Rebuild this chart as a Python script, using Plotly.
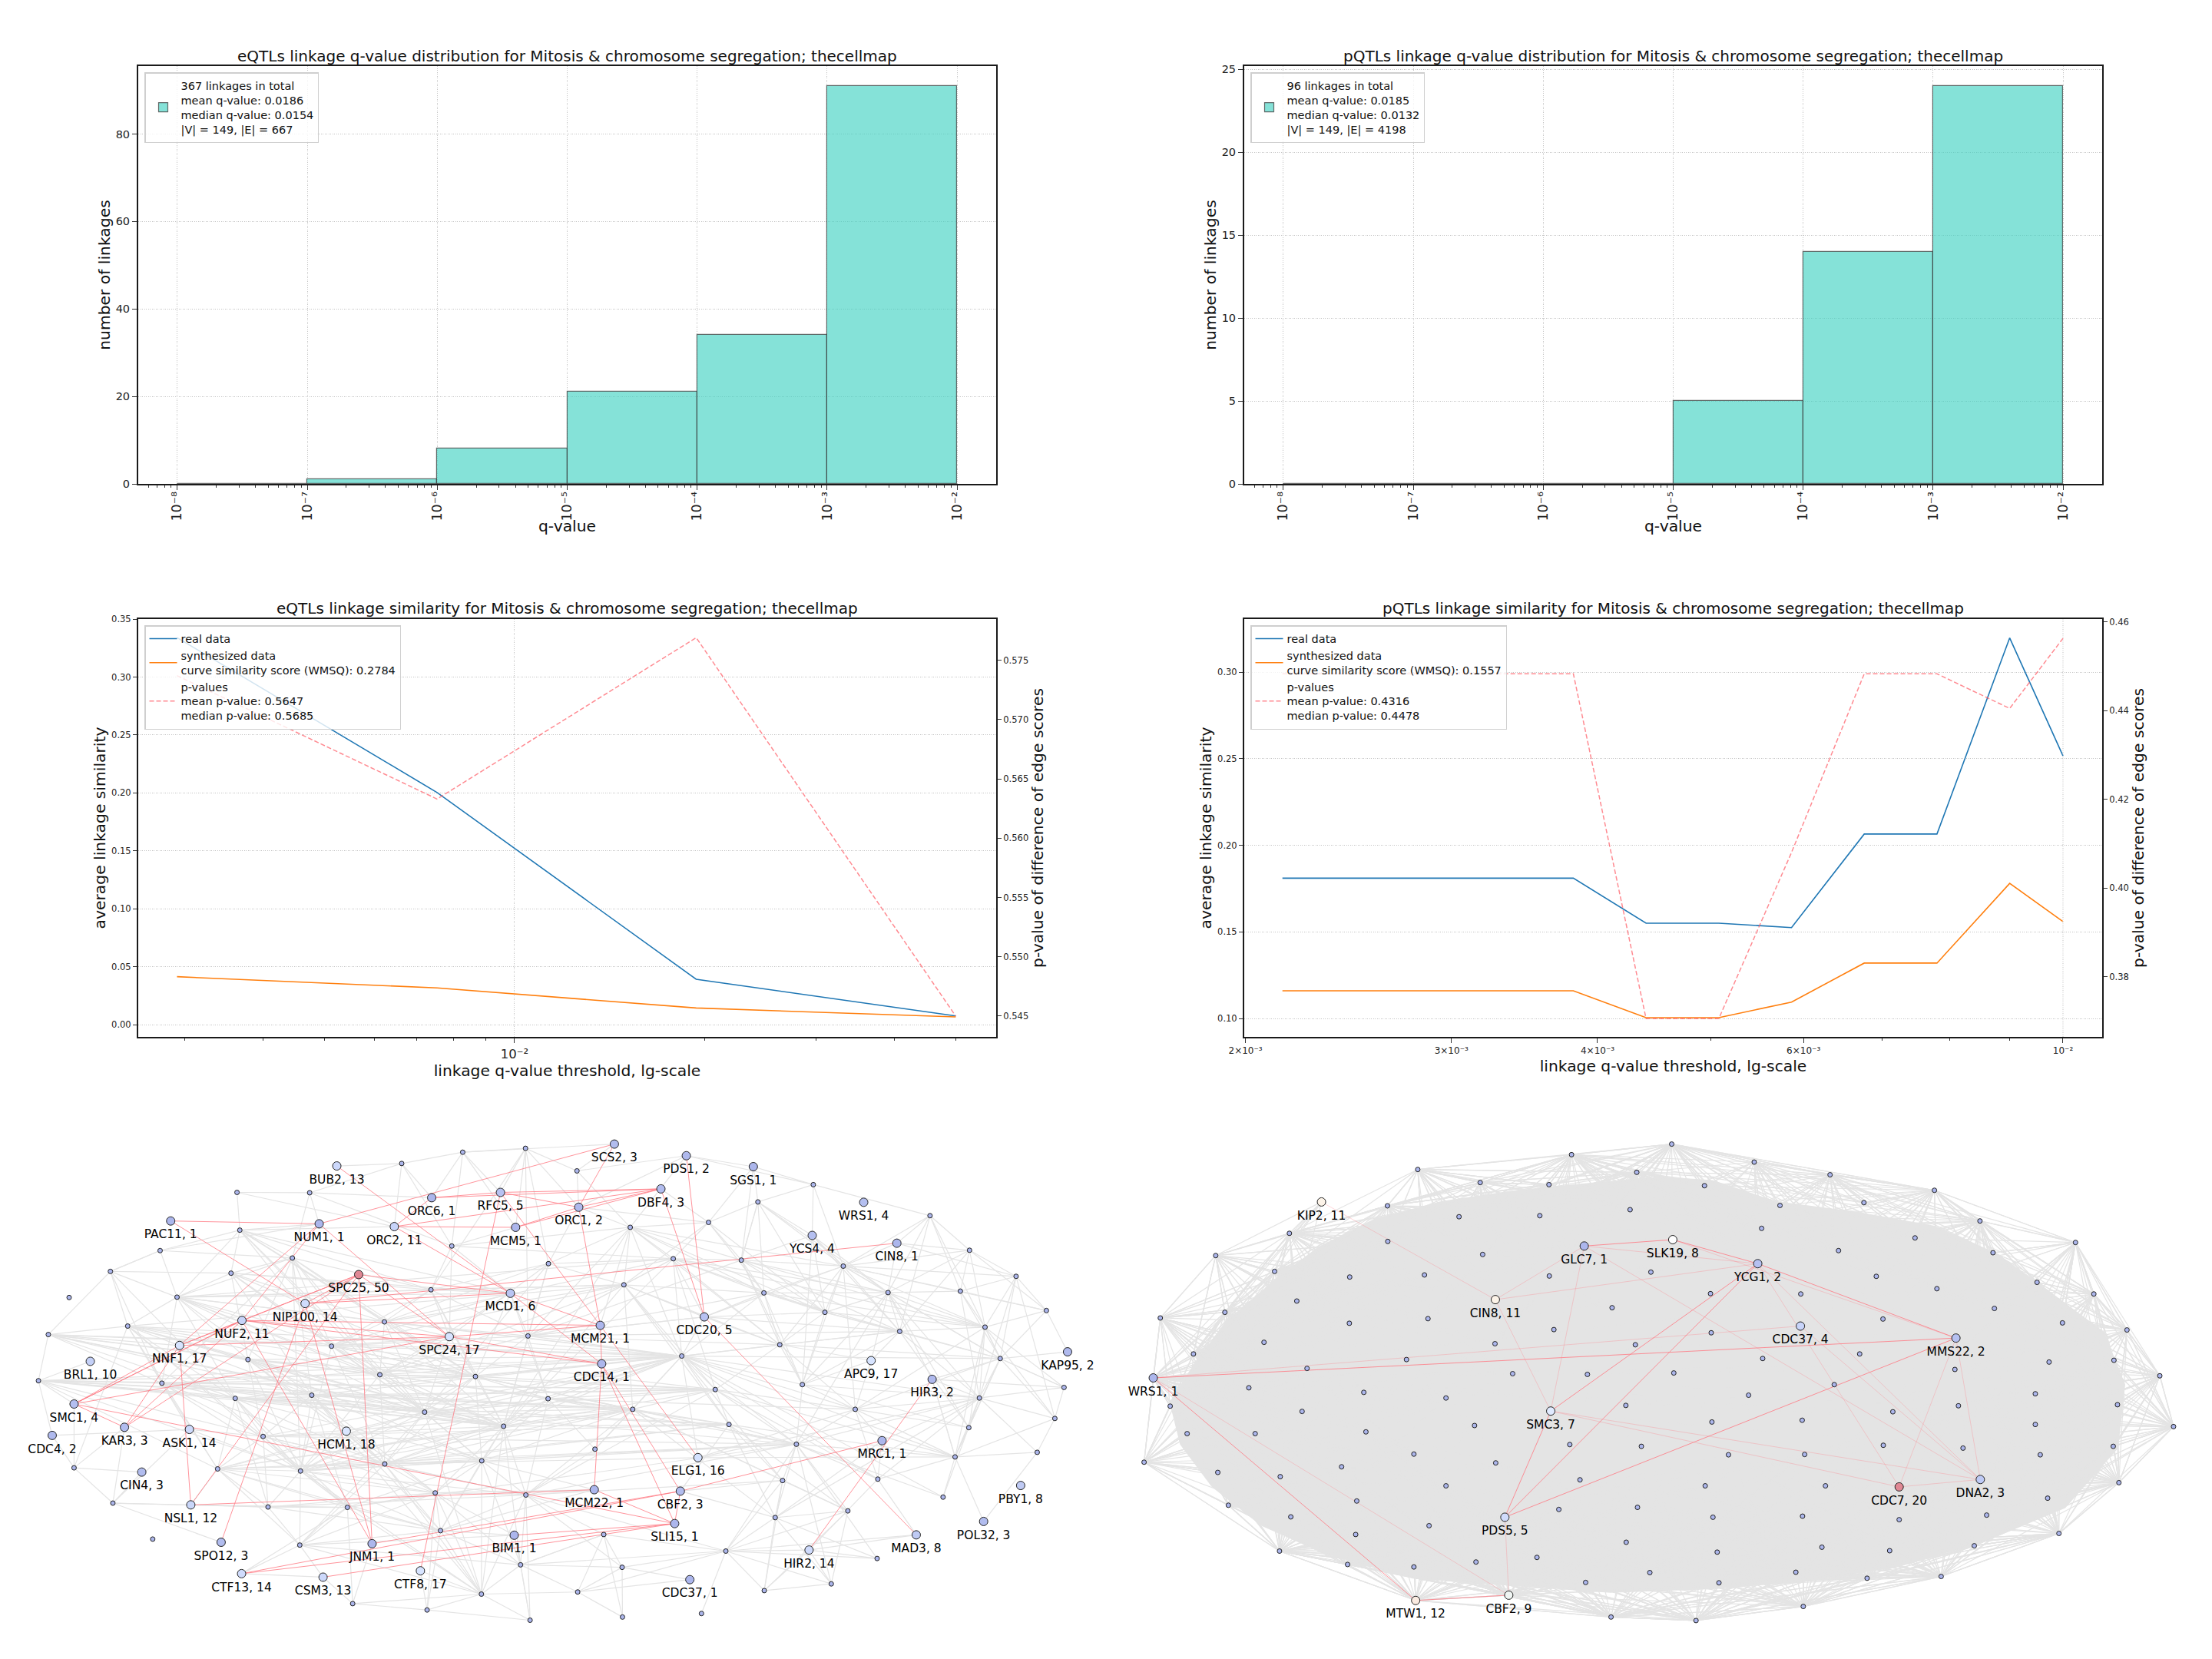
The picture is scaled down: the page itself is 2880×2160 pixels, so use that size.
import plotly.graph_objects as go

# ---------- histogram data ----------
BIN_EXPONENTS = [-8, -7, -6, -5, -4, -3, -2]
EQTL_COUNTS = [0, 1, 8, 21, 34, 91]
PQTL_COUNTS = [0, 0, 0, 5, 14, 24]
EQTL_HIST_NAME = "367 linkages in total<br>mean q-value: 0.0186<br>median q-value: 0.0154<br>|V| = 149, |E| = 667"
PQTL_HIST_NAME = "96 linkages in total<br>mean q-value: 0.0185<br>median q-value: 0.0132<br>|V| = 149, |E| = 4198"

# ---------- similarity curves ----------
EQ_THRESHOLD = [0.00292, 0.00754, 0.0194, 0.05]
EQ_REAL = [0.334, 0.2004, 0.0393, 0.0077]
EQ_SYNTH = [0.0415, 0.0318, 0.0145, 0.0068]
EQ_PVAL = [0.5737, 0.5633, 0.5769, 0.545]
PQ_THRESHOLD = [0.002151, 0.002482, 0.002864, 0.003305, 0.003814, 0.004401, 0.005078, 0.00586, 0.006762, 0.007803, 0.009004, 0.01]
PQ_REAL = [0.181, 0.181, 0.181, 0.181, 0.181, 0.155, 0.155, 0.1525, 0.2065, 0.2065, 0.3197, 0.2516]
PQ_SYNTH = [0.116, 0.116, 0.116, 0.116, 0.116, 0.1005, 0.1005, 0.1095, 0.132, 0.132, 0.178, 0.156]
PQ_PVAL = [0.4483, 0.4483, 0.4483, 0.4483, 0.4483, 0.3705, 0.3705, 0.408, 0.4483, 0.4483, 0.4405, 0.4563]

# ---------- eQTL network: layout (left half, right half) ----------
EQ_GENES = ["BUB2","ORC6","RFC5","NUM1","PAC11","ORC2","MCM5","SPC25","NIP100","MCD1","NUF2","NNF1","SPC24","BRL1","SMC1","KAR3","ASK1","CDC4","HCM1","CIN4","NSL1","SPO12","JNM1","BIM1","CTF13","CSM3","CTF8",
            "SCS2","PDS1","SGS1","DBF4","ORC1","WRS1","YCS4","CIN8","CDC20","MCM21","CDC14","APC9","KAP95","HIR3","MRC1","ELG1","MCM22","CBF2","SLI15","PBY1","POL32","MAD3","HIR2","CDC37"]
EQ_DEGREE = [13,1,5,1,1,11,1,50,14,6,11,17,17,10,4,3,14,2,18,3,12,3,1,1,14,13,17,
             3,2,1,3,2,4,4,1,5,1,1,17,2,2,1,16,1,3,1,8,3,8,14,1]
EQ_GENE_POS = [(955,170),(1224,260),(1419,245),(905,334),(484,326),(1118,342),(1462,344),(1017,478),(865,560),(1447,531),(686,608),(509,679),(1274,654),(256,724),(210,845),(353,911),(537,917),(148,934),(982,922),(402,1038),(541,1131),(627,1237),(1055,1241),(1458,1217),(685,1326),(916,1336),(1192,1318),
               (1742,108),(1946,141),(2136,172),(1874,235),(1641,287),(2449,273),(2303,367),(2543,389),(1997,598),(1702,622),(1706,731),(2470,722),(3027,697),(2643,775),(2501,949),(1979,997),(1685,1088),(1929,1092),(1913,1184),(2894,1076),(2789,1178),(2598,1216),(2294,1259),(1956,1343)]
EQ_SMALL_A = [(1139,163),(1312,131),(1490,120),(672,245),(878,246),(680,352),(454,410),(829,431),(1281,397),(1555,447),(313,469),(655,474),(1222,521),(196,543),(502,542),(362,624),(137,648),(1090,612),(1497,652),(940,681),(703,719),(109,779),(459,786),(1077,762),(1348,767),(667,829),(884,820),(1554,830),(1204,868),(1428,908),(746,937),(1366,1006),(1091,1015),(617,1029),(852,1035),(210,1026),(320,1126),(760,1137),(985,1138),(1234,1097),(1491,1103),(433,1228),(850,1245),(1249,1204),(1476,1301),(1365,1384),(1211,1429),(1000,1411),(1503,1458)]
EQ_SMALL_B = [(68,184),(738,223),(581,272),(441,330),(219,344),(1069,311),(341,433),(534,437),(823,454),(1181,409),(201,507),(598,530),(950,529),(1155,525),(1313,483),(771,585),(1399,580),(983,639),(1225,627),(643,677),(365,709),(1268,716),(460,804),(707,790),(1449,798),(1209,828),(226,860),(857,860),(499,903),(1179,912),(1423,886),(119,973),(690,959),(1140,995),(1373,982),(651,1062),(921,1058),(1106,1109),(630,1167),(836,1148),(144,1215),(490,1262),(919,1283),(196,1308),(70,1378),(599,1374),(789,1355),(197,1449),(421,1439)]
# estimated by eye: the picture shows 667 overlapping edges that cannot all be told apart
EQ_GRAY = """a0: a1 a4 ORC6 BUB2 ORC2 a8
a1: RFC5 ORC6 a8 a2 SCS2 MCM5
a2: RFC5 a9 a18 ORC1 a12 MCM5
a3: a4 a5 ORC2
a4: ORC6 a7 NUM1 a8
a5: NUM1 ORC2 a6 a7 a11 a17 a19 a23 a24 a28 MCD1 a14 a12
a6: NUM1 a10 a14 a7
a7: a11 a19 a20 a23 a26 a28 a17 a12 a24 a34 a14 a22
a8: a12 MCD1 SPC24 MCM5 b4 b6
a9: a12 a18 b10 b6 SPC24 a28 b4 ORC1
a10: a11 a14 a15 a6 a22 a25 a16
a11: a12 a17 a19 a20 a23 a26 MCD1 a14 a24 a28
a14: a15 a17 a19 a23 a26 a28 a24 a29 a20 a25 a22 MCD1 a12 b20 b10 b6
a15: a16 a20 a22 a25 a26 a30 a23 a28 a33 a34 a29 a19 a35 a24 b20 b10
a16: a21 a22 a20 a25 a23 a26 NNF1 a19 a28 a29 b20
a21: a22 a25 a26 a30 a33 a28 SMC1 a23 a29 CDC4 a34 BRL1 b22 b26 b20
a22: a25 a30 a34 a32 a28 a24 a26 a29 a33 b20 b22 b26
a20: a24 a28 a32 a31 a34 a26 a30 a23 a29 b20 a39
a25: a30 a33 a34 a32 a28 a38 a37 a31 a29 b20 b26 b28 b22
a26: a34 a32 a38 a28 a31 a29 a39 a43 a30 b20 b22 b26
a30: a33 a34 a37 a32 a38 a39 a40 a29 b20 b26 b28 b32
a33: a37 a34 a38 a39 a42 a43 a28 a29 a31 a32 b20 b26 b32
a34: a37 a38 a42 a39 a43 a32 a28 a29 a31 a19 a23 a24 a40 b20 b26 b32 b28
a35: CDC4 KAR3 a36 CIN4 SMC1
a36: a37 CIN4 NSL1 KAR3 ASK1 SPO12
a37: a38 a39 a42 a43 a40
a38: a39 a42 a43 a45 a47 b26 b32
a42: a43 a45 a44 CSM3 a39 a32 a28
a45: a43 a39 a44 a46 a47 a32 a31 a29 a40 CTF8 a28 a34 a48 a26 b44
a46: a43 a39 CTF8 a47 a48
a47: JNM1 CSM3
a48: a44 a40
a39: a40 a43 a44 a31 a29
a43: a40 a44 a31 a29 a32
a29: a17 a18 a19 a23 a24 a27 a28 a31 a32 a40 a44 a12 a9 b4 b6 b10 b20 b22 b26 b28
a31: a32 a40 a24 a28 a44 a27
a32: a39 a40 a28 a24 a19 b20 b26 b32 b28
a17: a23 a19 a12 a18 a24 a28 b20 b6 b10 a9
a19: a23 a28 a24 a18 b20 b10 a12 b26 b22 b32
a23: a24 a28 a32 a31 b20 a27 b10 a18 b26 b22
a24: a27 b20 a18 a28 b26 b22
a28: a27 b20 b26 b32 b22 b28
a12: a18 MCD1 a24 b10
a18: a27 b20 b10 b6 b11 b7 b19 b17 CDC20
a27: b26 b20 b31 b22 b28 a40 b32 b27
a40: b31 b26 b35 b40 b41 b43 a44 b22 b32
a44: b40 b43 b44 b41 a48
b0: ORC1 PDS1 a2 SCS2 b4
b1: b2 SGS1 PDS1 YCS4 b8 b5
b2: SGS1 b3 YCS4 b8 b11 b12 b7 b15
b3: ORC1 b4 b6 b7 b11 DBF4 b10 b15
b4: ORC1 b6 b7 b10 b11 b15 b8 MCM21 a18 b20 b19
b5: b8 b9 b13 b17 b12 b21 CIN8
b6: b7 b10 b20 b11 b19 b12 b15 b22 b18
b7: b8 b11 b19 b15 YCS4 b12 b17 b18 b23 b2
b8: b9 b11 b12 b13 b14 b15 b17 b19 b16 b18 b21 b23 b27
b9: b13 b14 b17 b16 b18 b12
b10: b11 b19 b20 CDC20 b22 b26 b28
b11: b12 b15 b17 b19 b20 b23 b18
b12: b13 b15 b17 b18 b21 b25 b23 b29 b32
b13: b14 b16 b18 b25 b21
b14: b18 b16 b21 b25 b30
b15: b17 b23 b18 b19 b21
b16: b18 b21 KAP95
b17: b18 b19 b20 b21 b25 b29 b23
b18: b21 b25 b29 b30 b24 b27 b33
b19: b20 b23 b27 b21 b22
b20: b22 b23 b26 b27 b28 b32 b21 b35 b31 b33 b37 b36 b25
b21: b25 b29 b27 b33 KAP95 b24 b30
b22: b27 b28 b32 b33 b36 b26
b23: b27 b32 b29 b25
b24: b25 b30 b21
b25: b27 b29 b33 b32 b34 b30 b36 b37 b38
b26: b28 b31 b32 b35 b38 b39
b27: b32 b33 b36 b29
b28: b32 b35 b39 b38
b29: b33
b30: b34 b33
b33: b37 POL32 b36 b34 b32 b28 HIR3 b21
b32: b35 b38 b39 b46 b41 b42 b36 b37
b34: POL32
b35: b38 b39 b41 b45
b38: b39 b41 b45 b46 b42
b39: b45 b46 b41
b40: b41 b43 b44 b47 a44
b41: b43 b45 b46 b48 b42 b44
b43: b44 b47 CDC37
b45: b46
b44: b47 CDC37
SPC24: a24 a23 a28 a19 a17 a12 b20
MCD1: a24 a18 a27 a19 a23
CDC20: a18 b6 b10 b15 b11 b19 b20 b8 b17
ELG1: b20 b27 b33 b25 a32
HCM1: a34 a32 a28 a26
NSL1: a37 a33 a38
ASK1: a30 a22 a34 CDC4
CTF13: a42 a38 CSM3
PDS1: SGS1 ORC1 b4
SGS1: b3 b7
CIN8: b14 b9 b8 b12
YCS4: b8 b12 b15 b23 b17
HIR3: b25 b12 b24 b33 b21
HIR2: b41 b42 b46 b45 b36
MRC1: b27 b25 b36 b38
APC9: b17 b19 b23 b27 b12
BIM1: a44 a43 a39 a42
CBF2: b28 b35 b38
MCM22: a40 a43 a39 a31
MAD3: b41 HIR2 b36"""
EQ_RED = """PAC11: NUM1 NIP100
NUM1: SCS2 SPC24 NNF1 NUF2
BUB2: MCD1
ORC6: RFC5 ORC2 DBF4
RFC5: DBF4 ORC1 MCM21 CTF8
ORC2: MCM5 DBF4 MCD1
MCM5: DBF4 ORC1
SPC25: NUF2 NIP100 NNF1 SPC24 JNM1 NSL1 MCD1 KAR3
NIP100: SPO12 JNM1 MCD1 CIN8
NUF2: SPC24 SMC1 NNF1 KAR3 JNM1 MCM21 CDC14
NNF1: SMC1 KAR3 NSL1 SPC24
SMC1: SPC24 KAR3 SLI15 NUF2
MCD1: MCM21 CDC14
SPC24: MCM21 CDC14
NSL1: MCM22
CTF13: CBF2 SLI15
CSM3: SLI15
BIM1: SLI15
MCM22: SLI15 CDC14
ORC1: SCS2 MCM21 DBF4
DBF4: CDC20
PDS1: CDC20
CDC20: MAD3
MCM21: CDC14 ELG1
CDC14: CBF2 SLI15
CBF2: SLI15 MRC1
JNM1: CBF2
HIR3: HIR2"""

# ---------- pQTL network ----------
PQ_GENES = ["KIP2","GLC7","CIN8","WRS1","SMC3","PDS5","MTW1","CBF2","SLK19","YCG1","CDC37","MMS22","DNA2","CDC7"]
PQ_DEGREE = [11,1,11,1,7,5,12,9,8,2,4,2,3,20]
PQ_GENE_POS = [(611,272),(1356,397),(1104,549),(134,771),(1261,865),(1131,1166),(878,1402),(1142,1387),(1607,379),(1848,447),(1969,624),(2410,658),(2479,1059),(2249,1080)]
PQ_SMALL_A = [(884,180),(1061,217),(1256,223),(1320,138),(1505,188),(798,283),(1001,314),(1230,311),(1486,294),(520,361),(799,384),(311,424),(1068,421),(478,469),(691,485),(903,479),(1257,482),(1545,471),(541,553),(1435,572),(337,585),(154,601),(690,616),(913,603),(1270,634),(448,670),(248,703),(1103,674),(1501,677),(852,719),(570,744),(1153,759),(1365,761),(405,799),(731,812),(964,828),(182,851),(556,866),(1474,849),(1045,906),(230,929),(423,929),(737,924),(1315,960),(1518,965),(108,1010),(873,987),(668,1023),(1105,1012),(317,1039),(494,1051),(964,1077),(1344,1060),(347,1132),(711,1120),(524,1165),(1284,1144),(1507,1138),(916,1190),(708,1215),(492,1262),(1475,1237),(685,1300),(873,1307),(1049,1293),(1222,1280),(1542,1323),(1360,1351),(1432,1449)]
PQ_SMALL_B = [(36,108),(270,159),(129,226),(485,195),(343,282),(581,274),(781,239),(291,347),(726,374),(910,326),(509,410),(947,416),(1181,387),(616,483),(788,518),(1072,500),(146,532),(402,533),(1233,533),(951,574),(635,604),(1144,615),(1327,635),(148,643),(569,703),(294,716),(1106,726),(1290,721),(839,747),(42,757),(1420,765),(497,790),(1067,816),(254,820),(849,850),(1300,847),(663,867),(150,896),(406,891),(1459,909),(1067,903),(636,962),(862,970),(1288,965),(197,989),(413,988),(1081,989),(131,1077),(472,1077),(1304,1068),(1102,1112),(153,1166),(407,1163),(681,1173),(929,1160),(1134,1212),(165,1265),(462,1251),(654,1261),(894,1247),(170,1352),(388,1322),(590,1339),(800,1334),(409,1419),(105,1459)]
# 4198 edges merge into a solid mass in the picture: its outline is traced, and only the outer fans are listed
PQ_MASS_X = [250,340,470,600,760,950,1150,1350,1568,1720,1900,2130,2350,2530,2680,2830,2890,2870,2720,2480,2230,1970,1720,1430,1140,870,620,440,300,210,180]
PQ_MASS_Y = [730,610,500,400,320,270,240,220,200,210,270,300,340,420,530,640,790,970,1140,1240,1310,1350,1370,1380,1360,1340,1270,1190,1080,960,840]
PQ_TARGETS = {
 "NW": "a10 a14 a15 a22 a25 a30 a34 a29 a23 a37 KIP2 a33",
 "N": "a12 a16 a23 a24 a27 a31 a35 CIN8 GLC7 a17 a19 b7 a6 a7 a15",
 "NE": "b10 b13 b14 b16 b17 b20 b24 b25 b19 b8 b7 CDC37 YCG1 SLK19",
 "W": "a33 a37 a41 a42 a34 a30 a47 a50 a25 a35 a46 a54",
 "SW": "a42 a47 a50 a54 a55 a59 a51 a46 a58 a48 a39 PDS5",
 "S": "a48 a51 a52 a56 a57 a58 a61 a65 b44 b47 b51 b52 a64 a63 b45 PDS5 CBF2",
 "SE": "b36 b41 b42 b45 b48 b53 b54 b52 b57 b58 DNA2 CDC7 b34",
 "E": "b21 b26 b28 b32 b34 b40 b42 b46 b19 b14 b36 MMS22 DNA2",
 "WN": "a26 a20 a33 a25 a13 a18 a22 a10 a9 a14 a11",
 "TOP": "a5 a0 a1 a2 a3 a4 a6 a7 a8 a10 a12 a15 a16",
 "TR": "b0 b1 b2 b3 b4 b5 b7 a8 a17 b10 b13 b6 b8",
 "RT": "b6 b8 b9 b11 b13 b14 b15 b12 b18 b19 b21",
 "RE": "b18 b21 b22 b26 b27 b30 b32 b35 b39 b40 b43",
 "RB": "b43 b46 b49 b50 b55 b54 b59 b42 b40",
 "BOT": "b55 b59 b63 b58 b62 b57 b64 b61 b60 b56 b65 a68 a67 a66",
 "BL": "a68 a67 a65 a64 CBF2 a63 MTW1 a62 a59 a60 a55",
 "LB": "a60 a55 a53 a50 a49 a41 a40 a45 a36 a37",
 "LT": "a36 a33 a26 a21 a20 a25 a13 a18 WRS1 a37",
}
PQ_GRAY = """a21: W LT WN a45 a11
a11: NW WN a9 a13 a20 a26 a18 a25
a9: NW N WN TOP a5 a13 a14 a10 a15
a5: N TOP WN a0 a10 a14 a15 a6
a0: N TOP a1 a2 a6 a15 a10 a12
a1: N TOP a2 a6 a7 a12 a16 a3
a2: N TOP a3 a6 a7 a12 a16
a3: N NE TOP TR a4 a7 a8 b0
a4: N NE TOP TR a8 a17 a19 b2 b0
b0: NE N TR TOP b2 a8 b1
b1: NE TR b2 b4 b7 b3
b3: NE TR RT b4 b5 b10 b7 b6
b6: NE TR RT b5 b8 b9 b13 b14
b9: NE E TR RT b8 b11 b14 b19 b13
b11: E RT b14 b19 b15 b12
b12: E RT RE b15 b18 b19 b21
b15: E RT RE b18 b19 b21 b26
b18: E RT RE b21 b22 b26 b27
b22: E RE RT b27 b30 b26 b35
b30: E RE RB b27 b35 b43 b49 b32 b26 b39
b39: E RE RB b35 b43 b49 b27 b40
b27: E SE RE
b35: E SE RE RB
b43: E SE RE RB
b49: E SE RB RE b55
b50: E SE RB b55
b55: E SE RB BOT b46 b59
b59: S SE RB BOT b63
b63: S SE BOT RB b58 b54 b53 b62
b62: S SE BOT b64
b64: S SE BOT b61 b60 b65
b65: S SE BOT BL a68
a68: S SW BOT BL a67
a67: S SW BOT BL a66 CBF2
a66: S SE BOT
CBF2: S SW BL MTW1
MTW1: S SW BL LB a62
a63: S SW BL
a62: S SW BL LB a60
a60: S SW W BL LB a53
a53: SW W LB a49
a49: SW W LB LT a45
a45: W LB LT a36 a40 a53
a40: W LB LT
a36: W NW LT LB
a26: W NW LT WN
a20: W NW LT WN
a13: NW N WN TOP
a18: NW N WN
WRS1: W SW NW E LT LB"""
PQ_RED = """WRS1: MTW1 MMS22
MTW1: CBF2
YCG1: SLK19 MMS22 SMC3 PDS5
SMC3: PDS5
PDS5: MMS22
GLC7: SLK19"""
PQ_RED_FAINT = """KIP2: CIN8
CIN8: GLC7 YCG1 SMC3
GLC7: YCG1 SMC3 DNA2
SLK19: MMS22
YCG1: DNA2 CDC7
WRS1: CDC37 CBF2
PDS5: CBF2
SMC3: DNA2 CDC7
MMS22: DNA2 CDC7
DNA2: CDC7 CDC37"""


# ---------- styling ----------
W, H = 2880, 2160
FONT = "DejaVu Sans"
BLUE, ORANGE = "#1f77b4", "#ff7f0e"
PINK = "rgba(255,90,100,0.7)"
TURQ = "rgba(58,208,192,0.62)"
GRID = dict(showgrid=True, gridcolor="#c4c4c4", griddash="1px,1.5px", gridwidth=1)
SPINE = dict(showline=True, linecolor="#1a1a1a", linewidth=2, mirror=True, zeroline=False, ticks="outside", tickcolor="#333", tickwidth=1)


def xdom(a, b):
    return [a / W, b / W]


def ydom(top, bottom):
    return [1 - bottom / H, 1 - top / H]


def coords(gene_pos, small_a, small_b, genes):
    nodes = {g: p for g, p in zip(genes, gene_pos)}
    nodes.update({f"a{i}": p for i, p in enumerate(small_a)})
    nodes.update({f"b{i}": (p[0] + 1568, p[1]) for i, p in enumerate(small_b)})
    return nodes


def segments(text, nodes, groups=None):
    xs, ys = [], []
    for line in text.splitlines():
        head, tail = line.split(":")
        for t in tail.split():
            for tgt in (groups[t].split() if groups and t in groups else [t]):
                xs += [nodes[head][0], nodes[tgt][0], None]
                ys += [nodes[head][1], nodes[tgt][1], None]
    return xs, ys


SUPER = str.maketrans("0123456789", "\u2070\u00b9\u00b2\u00b3\u2074\u2075\u2076\u2077\u2078\u2079")


def sup(n):
    return "10\u207b" + str(n).translate(SUPER)


fig = go.Figure()


def legend_box(x, y):
    return dict(x=x / W, y=1 - y / H, xanchor="left", yanchor="top", bgcolor="rgba(255,255,255,0.8)",
                bordercolor="#cfcfcf", borderwidth=1.5, font=dict(family=FONT, size=14.5, color="#111"),
                itemwidth=36, tracegroupgap=0)


# histograms
mids = [(a + b) / 2 for a, b in zip(BIN_EXPONENTS[:-1], BIN_EXPONENTS[1:])]
for ax, counts, name, leg in (("", EQTL_COUNTS, EQTL_HIST_NAME, "legend"), ("2", PQTL_COUNTS, PQTL_HIST_NAME, "legend2")):
    fig.add_trace(go.Bar(x=mids, y=counts, width=1, name=name, legend=leg, showlegend=True,
                         marker=dict(color=TURQ, line=dict(color="rgba(60,60,60,0.75)", width=1.2)),
                         xaxis="x" + ax, yaxis="y" + ax))

# similarity curves
for xa, ya, ya2, xs, real, syn, pv, wm, mean, med, leg in (
        ("x3", "y3", "y4", EQ_THRESHOLD, EQ_REAL, EQ_SYNTH, EQ_PVAL, "0.2784", "0.5647", "0.5685", "legend3"),
        ("x5", "y5", "y6", PQ_THRESHOLD, PQ_REAL, PQ_SYNTH, PQ_PVAL, "0.1557", "0.4316", "0.4478", "legend4")):
    fig.add_trace(go.Scatter(x=xs, y=real, mode="lines", name="real data", legend=leg,
                             line=dict(color=BLUE, width=1.6), xaxis=xa, yaxis=ya))
    fig.add_trace(go.Scatter(x=xs, y=syn, mode="lines", name=f"synthesized data<br>curve similarity score (WMSQ): {wm}", legend=leg,
                             line=dict(color=ORANGE, width=1.6), xaxis=xa, yaxis=ya))
    fig.add_trace(go.Scatter(x=xs, y=pv, mode="lines", name=f"p-values<br>mean p-value: {mean}<br>median p-value: {med}", legend=leg,
                             line=dict(color=PINK, width=1.5, dash="6px,3px"), xaxis=xa, yaxis=ya2))

# vertical grid line at the labelled 10^-2 tick of the pQTL curve panel
fig.add_trace(go.Scatter(x=[0.01, 0.01], y=[0.0894, 0.3306], mode="lines", showlegend=False, hoverinfo="skip",
                         line=dict(color="#c4c4c4", width=1, dash="1px,1.5px"), xaxis="x5", yaxis="y5"))

# networks
SCALE_LEFT = [[0, "rgb(172,182,236)"], [0.32, "rgb(214,227,255)"], [0.5, "rgb(250,250,255)"], [1, "rgb(224,136,148)"]]
SCALE_RIGHT = [[0, "rgb(172,182,236)"], [0.16, "rgb(200,212,250)"], [0.32, "rgb(225,235,255)"], [0.37, "rgb(255,255,255)"],
               [0.42, "rgb(240,245,243)"], [0.53, "rgb(252,243,232)"], [0.58, "rgb(250,235,225)"], [1, "rgb(224,136,148)"]]
EDGE_GRAY = "#e4e4e4"

fig.add_trace(go.Scatter(x=PQ_MASS_X, y=PQ_MASS_Y, mode="lines", fill="toself", fillcolor=EDGE_GRAY,
                         line=dict(width=0), showlegend=False, hoverinfo="skip", xaxis="x8", yaxis="y8"))

for xa, ya, genes, deg, pos, sa, sb, gray, groups, red, faint, scale, cmax in (
        ("x7", "y7", EQ_GENES, EQ_DEGREE, EQ_GENE_POS, EQ_SMALL_A, EQ_SMALL_B, EQ_GRAY, None, EQ_RED, None, SCALE_LEFT, 50),
        ("x8", "y8", PQ_GENES, PQ_DEGREE, PQ_GENE_POS, PQ_SMALL_A, PQ_SMALL_B, PQ_GRAY, PQ_TARGETS, PQ_RED, PQ_RED_FAINT, SCALE_RIGHT, 20)):
    nodes = coords(pos, sa, sb, genes)
    gx, gy = segments(gray, nodes, groups)
    fig.add_trace(go.Scatter(x=gx, y=gy, mode="lines", line=dict(color=EDGE_GRAY, width=1.2), showlegend=False,
                             hoverinfo="skip", xaxis=xa, yaxis=ya))
    if faint:
        fx, fy = segments(faint, nodes)
        fig.add_trace(go.Scatter(x=fx, y=fy, mode="lines", line=dict(color="rgba(255,120,130,0.3)", width=1),
                                 showlegend=False, hoverinfo="skip", xaxis=xa, yaxis=ya))
    rx, ry = segments(red, nodes)
    fig.add_trace(go.Scatter(x=rx, y=ry, mode="lines", line=dict(color="rgba(255,120,130,0.8)", width=1),
                             showlegend=False, hoverinfo="skip", xaxis=xa, yaxis=ya))
    small = [p[0] for p in sa] + [p[0] + 1568 for p in sb], [p[1] for p in sa] + [p[1] for p in sb]
    fig.add_trace(go.Scatter(x=small[0], y=small[1], mode="markers", showlegend=False, hoverinfo="skip",
                             marker=dict(size=6, color="rgb(172,182,236)", line=dict(color="#222", width=1)),
                             xaxis=xa, yaxis=ya))
    fig.add_trace(go.Scatter(x=[p[0] for p in pos], y=[p[1] for p in pos], mode="markers", showlegend=False,
                             marker=dict(size=11, color=deg, colorscale=scale, cmin=1, cmax=cmax, line=dict(color="#222", width=1)),
                             xaxis=xa, yaxis=ya))
    # the labels sit a little further from the node than the node's own radius: a clear, larger marker sets the gap
    fig.add_trace(go.Scatter(x=[p[0] for p in pos], y=[p[1] for p in pos], mode="markers+text",
                             text=[f"{g}, {d}" for g, d in zip(genes, deg)], textposition="bottom center",
                             textfont=dict(family=FONT, size=15.5, color="#000"), cliponaxis=False, showlegend=False,
                             marker=dict(size=16, opacity=0), hoverinfo="skip", xaxis=xa, yaxis=ya))

TITLE_SIZE = 20.3
hist_minor = [e + m for e in range(-9, -1) for m in (0.301, 0.477, 0.602, 0.699, 0.778, 0.845, 0.903, 0.954)]
hist_x = dict(range=[-8.3, -1.7], tickvals=BIN_EXPONENTS, ticktext=[sup(-e) for e in BIN_EXPONENTS], tickangle=-90,
              tickfont=dict(family=FONT, size=17.5, color="#222"), ticklen=6, ticklabelstandoff=-5,
              minor=dict(tickvals=[v for v in hist_minor if -8.3 < v < -1.7], ticks="outside", ticklen=3, tickcolor="#333", showgrid=False),
              **GRID, **SPINE)
hist_y = dict(tickfont=dict(family=FONT, size=14.5, color="#222"), ticklen=6,
              title=dict(text="number of linkages", font=dict(family=FONT, size=TITLE_SIZE, color="#111"), standoff=2), **GRID, **SPINE)
curve_title_left = dict(text="linkage q-value threshold, lg-scale", font=dict(family=FONT, size=TITLE_SIZE, color="#111"), standoff=0)
curve_title_right = dict(text="linkage q-value threshold, lg-scale", font=dict(family=FONT, size=TITLE_SIZE, color="#111"), standoff=6)
curve_y = dict(tickfont=dict(family=FONT, size=11.5, color="#222"), ticklen=5, dtick=0.05, tickformat=".2f",
               title=dict(text="average linkage similarity", font=dict(family=FONT, size=TITLE_SIZE, color="#111"), standoff=2), **GRID, **SPINE)
curve_y2 = dict(side="right", tickfont=dict(family=FONT, size=11.5, color="#222"), ticklen=5, showgrid=False, zeroline=False, showline=True,
                linecolor="#1a1a1a", linewidth=2, ticks="outside", tickcolor="#333",
                title=dict(text="p-value of difference of edge scores", font=dict(family=FONT, size=TITLE_SIZE, color="#111"), standoff=1))
hidden = dict(visible=False, showgrid=False, zeroline=False)
small_font = '%s\u00d710\u207b\u00b3'


def paper_text(text, cx, y, size, anchor):
    return dict(text=text, x=cx / W, y=1 - y / H, xref="paper", yref="paper", xanchor="center", yanchor=anchor, showarrow=False,
                font=dict(family=FONT, size=size, color="#111"))


layout = dict(
    width=W, height=H, autosize=False, margin=dict(l=0, r=0, t=0, b=0, autoexpand=False), paper_bgcolor="white", plot_bgcolor="white",
    font=dict(family=FONT), barmode="overlay", bargap=0, hovermode=False,
    xaxis=dict(domain=xdom(180, 1297), anchor="y", **hist_x),
    yaxis=dict(domain=ydom(86, 630), anchor="x", range=[0, 95.55], dtick=20, **hist_y),
    xaxis2=dict(domain=xdom(1620, 2737), anchor="y2", **hist_x),
    yaxis2=dict(domain=ydom(86, 630), anchor="x2", range=[0, 25.2], dtick=5, **hist_y),
    xaxis3=dict(domain=xdom(180, 1297), anchor="y3", type="log", range=[-2.596, -1.237], tickvals=[0.01], ticktext=[sup(2)],
                tickfont=dict(family=FONT, size=16.5, color="#222"), ticklen=6, title=curve_title_left,
                minor=dict(tickvals=[0.003, 0.004, 0.005, 0.006, 0.007, 0.008, 0.009, 0.02, 0.03, 0.04, 0.05], ticks="outside", ticklen=3, tickcolor="#333", showgrid=False),
                **GRID, **SPINE),
    yaxis3=dict(domain=ydom(806, 1350), anchor="x3", range=[-0.0104, 0.35], **curve_y),
    yaxis4=dict(overlaying="y3", anchor="x3", range=[0.54325, 0.57847], dtick=0.005, tickformat=".3f", **curve_y2),
    xaxis5=dict(domain=xdom(1620, 2737), anchor="y5", type="log", range=[-2.7, -1.9665],
                tickvals=[0.002, 0.003, 0.004, 0.006, 0.01],
                ticktext=[small_font % "2", small_font % "3", small_font % "4", small_font % "6", sup(2)],
                tickfont=dict(family=FONT, size=12, color="#222"), ticklen=6, title=curve_title_right,
                minor=dict(tickvals=[0.005, 0.007, 0.008, 0.009], ticks="outside", ticklen=3, tickcolor="#333", showgrid=False),
                showgrid=False, **SPINE),
    yaxis5=dict(domain=ydom(806, 1350), anchor="x5", range=[0.0894, 0.3306], **curve_y),
    yaxis6=dict(overlaying="y5", anchor="x5", range=[0.3664, 0.46066], dtick=0.02, tickformat=".2f", **curve_y2),
    xaxis7=dict(domain=xdom(0, 1440), anchor="y7", range=[0, 3136], **hidden),
    yaxis7=dict(domain=ydom(1440, 2160), anchor="x7", range=[1568, 0], **hidden),
    xaxis8=dict(domain=xdom(1440, 2880), anchor="y8", range=[0, 3136], **hidden),
    yaxis8=dict(domain=ydom(1440, 2160), anchor="x8", range=[1568, 0], **hidden),
    legend=legend_box(188, 94), legend2=legend_box(1628, 94), legend3=legend_box(188, 814), legend4=legend_box(1628, 814),
    annotations=[
        paper_text("eQTLs linkage q-value distribution for Mitosis & chromosome segregation; thecellmap", 738.5, 87, 20, "bottom"),
        paper_text("pQTLs linkage q-value distribution for Mitosis & chromosome segregation; thecellmap", 2178.5, 87, 20, "bottom"),
        paper_text("eQTLs linkage similarity for Mitosis & chromosome segregation; thecellmap", 738.5, 806, 20, "bottom"),
        paper_text("pQTLs linkage similarity for Mitosis & chromosome segregation; thecellmap", 2178.5, 806, 20, "bottom"),
        paper_text("q-value", 738.5, 685, TITLE_SIZE, "middle"),
        paper_text("q-value", 2178.5, 685, TITLE_SIZE, "middle"),
    ],
)
fig.update_layout(**layout)
fig.write_html("out.html", post_script="document.body.style.margin='0';", config=dict(displayModeBar=False))
